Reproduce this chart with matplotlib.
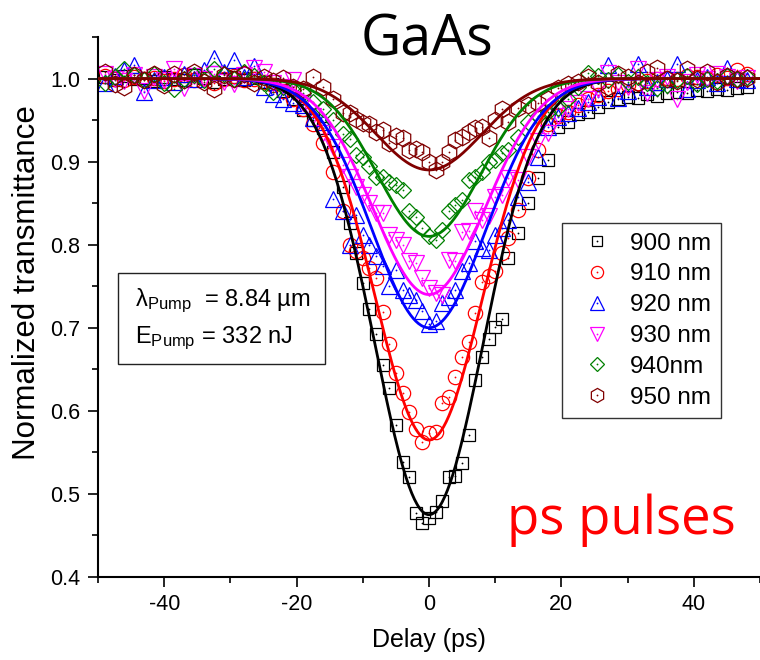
import numpy as np
import matplotlib
matplotlib.use("Agg")
import matplotlib.pyplot as plt
from matplotlib.lines import Line2D
from matplotlib.patches import Rectangle
from matplotlib import font_manager as fm

# ---------------- data ----------------
DELAY = [-49, -47.5, -46, -44.5, -43, -41.5, -40, -38.5, -37, -35.5, -34, -32.5,
         -31, -29.5, -28, -26.5, -25, -23.5, -22, -20.5, -19, -17.5, -16, -14.5, -13,
         -12, -11, -10, -9, -8, -7, -6, -5, -4, -3, -2, -1, 0, 1, 2, 3, 4, 5, 6,
         7, 8, 9, 10, 11, 12,
         13.5, 15, 16.5, 18, 19.5, 21, 22.5, 24, 25.5, 27, 28.5, 30, 31.5, 33,
         34.5, 36, 37.5, 39, 40.5, 42, 43.5, 45, 46.5, 48]

T900 = [1.002, 0.998, 1.003, 0.999, 1.001, 0.997, 1.002, 1.000, 0.998, 1.004, 1.001, 0.996,
        1.000, 1.002, 0.998, 1.001, 0.996, 0.993, 0.985, 0.975, 0.962, 0.950, 0.940, 0.912, 0.870,
        0.826, 0.790, 0.754, 0.722, 0.692, 0.655, 0.627, 0.583, 0.538, 0.520, 0.477, 0.465, 0.471,
        0.478, 0.491, 0.520, 0.521, 0.537, 0.571, 0.637, 0.665, 0.686, 0.701, 0.710, 0.784,
        0.814, 0.850, 0.880, 0.902, 0.942, 0.948, 0.957, 0.960, 0.966, 0.972, 0.975, 0.978,
        0.976, 0.981, 0.979, 0.983, 0.984, 0.982, 0.986, 0.985, 0.987, 0.986, 0.989, 0.990]

T910 = [1.003, 1.000, 0.998, 1.002, 0.999, 1.001, 0.997, 1.000, 1.004, 0.998, 1.001, 0.995,
        1.000, 1.003, 0.998, 1.000, 0.996, 0.992, 0.985, 0.975, 0.963, 0.945, 0.922, 0.888, 0.840,
        0.800, 0.792, 0.784, 0.772, 0.760, 0.719, 0.680, 0.646, 0.622, 0.599, 0.578, 0.563, 0.573,
        0.575, 0.610, 0.617, 0.641, 0.665, 0.683, 0.718, 0.755, 0.762, 0.768, 0.790, 0.808,
        0.842, 0.880, 0.914, 0.945, 0.955, 0.960, 0.968, 0.975, 0.980, 0.985, 0.988, 0.992,
        0.995, 0.997, 0.999, 1.001, 1.000, 1.003, 1.002, 0.999, 1.004, 1.001, 1.010, 1.005]

T920 = [0.995, 1.003, 1.010, 1.016, 0.984, 0.998, 1.002, 0.996, 1.005, 0.999, 1.010, 1.025,
        1.008, 1.022, 1.002, 1.015, 0.990, 0.981, 0.975, 0.970, 0.968, 0.953, 0.948, 0.855, 0.840,
        0.800, 0.836, 0.812, 0.800, 0.786, 0.774, 0.750, 0.770, 0.745, 0.740, 0.734, 0.720, 0.704,
        0.708, 0.730, 0.737, 0.746, 0.768, 0.778, 0.805, 0.796, 0.794, 0.812, 0.820, 0.830,
        0.858, 0.876, 0.905, 0.942, 0.954, 0.958, 0.965, 0.972, 0.978, 1.016, 0.977, 0.985,
        1.018, 0.990, 0.996, 1.000, 1.017, 0.987, 0.998, 1.002, 0.995, 1.013, 1.000, 0.998]

T930 = [1.005, 1.000, 0.997, 1.004, 0.985, 1.002, 0.998, 1.011, 0.989, 1.003, 0.999, 1.005,
        0.996, 0.993, 1.004, 1.013, 1.008, 0.995, 0.990, 0.998, 0.970, 0.955, 0.935, 0.918, 0.896,
        0.881, 0.869, 0.860, 0.850, 0.838, 0.838, 0.812, 0.806, 0.800, 0.780, 0.778, 0.760, 0.748,
        0.742, 0.740, 0.782, 0.780, 0.815, 0.816, 0.840, 0.830, 0.835, 0.857, 0.860, 0.880,
        0.878, 0.906, 0.925, 0.935, 0.955, 0.963, 0.970, 0.975, 0.987, 1.007, 0.995, 0.990,
        1.011, 0.983, 0.998, 1.002, 0.975, 0.996, 1.004, 0.999, 1.006, 1.002, 0.997, 1.001]

T940 = [0.995, 1.002, 1.011, 1.004, 0.998, 1.006, 0.995, 0.987, 1.000, 1.004, 0.998, 1.011,
        1.005, 0.999, 1.008, 1.003, 0.995, 0.984, 0.990, 0.986, 0.983, 0.972, 0.963, 0.950, 0.933,
        0.927, 0.908, 0.906, 0.895, 0.882, 0.881, 0.876, 0.872, 0.866, 0.840, 0.833, 0.820, 0.810,
        0.806, 0.818, 0.840, 0.848, 0.854, 0.878, 0.882, 0.888, 0.899, 0.902, 0.910, 0.914,
        0.930, 0.948, 0.955, 0.960, 0.965, 0.975, 0.990, 1.007, 1.003, 0.998, 1.004, 0.996,
        1.002, 0.995, 0.989, 0.992, 0.998, 1.003, 0.994, 1.000, 0.997, 1.003, 0.999, 1.002]

T950 = [1.008, 0.993, 0.990, 1.004, 0.998, 1.006, 0.992, 1.005, 0.998, 1.008, 0.996, 0.987,
        1.004, 0.999, 1.006, 0.995, 1.002, 0.997, 1.001, 0.990, 0.987, 1.002, 0.990, 0.975, 0.959,
        0.959, 0.951, 0.947, 0.945, 0.936, 0.938, 0.923, 0.931, 0.929, 0.914, 0.915, 0.912, 0.900,
        0.890, 0.900, 0.912, 0.926, 0.930, 0.936, 0.941, 0.942, 0.929, 0.950, 0.963, 0.948,
        0.965, 0.968, 0.971, 0.975, 0.989, 0.993, 0.996, 1.002, 0.995, 0.990, 1.005, 1.002,
        0.995, 1.008, 1.013, 1.000, 0.997, 1.011, 1.000, 1.008, 0.996, 1.003, 0.999, 1.001]

SERIES = [T900, T910, T920, T930, T940, T950]
LABELS = ["900 nm", "910 nm", "920 nm", "930 nm", "940nm", "950 nm"]

# Gaussian fit parameters
FIT_DEPTH = [0.525, 0.435, 0.300, 0.260, 0.190, 0.110]
FIT_SIGMA = [8.2, 8.1, 8.6, 8.4, 7.8, 8.0]
FIT_CENTER = [0.0, 0.0, 0.0, 0.0, 0.0, 0.0]

X_TICKS = [-40, -20, 0, 20, 40]
Y_TICKS = [0.4, 0.5, 0.6, 0.7, 0.8, 0.9, 1.0]

# ---------------- style ----------------
COLORS = ["#000000", "#ff0000", "#0000ff", "#ff00ff", "#008000", "#800000"]
MARKERS = ["s", "o", "^", "v", "D", "h"]
MSIZE = [8.3, 10.3, 11.5, 11.5, 8.3, 12]


def has_font(name):
    try:
        fm.findfont(fm.FontProperties(family=name), fallback_to_default=False)
        return True
    except Exception:
        return False


NARROW = has_font("Liberation Sans Narrow")
TICK_FAMILY = ["Liberation Sans Narrow", "Liberation Sans"] if NARROW else ["Liberation Sans"]
TICK_SIZE = 18 if NARROW else 15.5
XLAB_SIZE = 21 if NARROW else 18

plt.rcParams["font.family"] = ["Liberation Sans", "DejaVu Sans"]
plt.rcParams["mathtext.fontset"] = "custom"
plt.rcParams["mathtext.rm"] = "Liberation Sans"
plt.rcParams["mathtext.it"] = "Liberation Sans:italic"

fig = plt.figure(figsize=(7.6, 6.6), dpi=100)
ax = fig.add_axes([98 / 760, 83 / 660, 662 / 760, 540 / 660])

# data markers
for vals, c, m, ms in zip(SERIES, COLORS, MARKERS, MSIZE):
    ax.plot(DELAY, vals, ls="none", marker=m, ms=ms, mfc="none", mec=c, mew=0.9, zorder=2)
    ax.plot(DELAY, vals, ls="none", marker="o", ms=1.3, mfc=c, mec="none", zorder=2)

# fit curves
xs = np.linspace(-50, 50, 501)
for d, s, c0, c in zip(FIT_DEPTH, FIT_SIGMA, FIT_CENTER, COLORS):
    ax.plot(xs, 1 - d * np.exp(-(xs - c0) ** 2 / (2 * s ** 2)), color=c, lw=2.0, zorder=3)

ax.set_xlim(-50, 49.4)
ax.set_ylim(0.4, 1.05)
ax.set_xticks(X_TICKS)
ax.set_xticks([-50, -30, -10, 10, 30, 50], minor=True)
ax.set_yticks(Y_TICKS)
ax.set_yticks([0.45, 0.55, 0.65, 0.75, 0.85, 0.95, 1.05], minor=True)
ax.set_xticklabels([str(t) for t in X_TICKS], family=TICK_FAMILY, size=TICK_SIZE)
ax.set_yticklabels([f"{t:.1f}" for t in Y_TICKS], family=TICK_FAMILY, size=TICK_SIZE)

for side in ["top", "right"]:
    ax.spines[side].set_visible(False)
for side in ["left", "bottom"]:
    ax.spines[side].set_linewidth(1.5)
ax.tick_params(which="major", direction="out", length=7, width=1.2, pad=5)
ax.tick_params(which="minor", direction="out", length=4.5, width=1.2)
ax.tick_params(axis="y", which="major", pad=6)

ax.set_xlabel("Delay (ps)", family=TICK_FAMILY, size=XLAB_SIZE)
ax.xaxis.set_label_coords(0.5, -0.095)
ax.set_ylabel("Normalized transmittance", family=["Liberation Sans"], size=22.5)
ax.yaxis.set_label_coords(-0.085, 0.546)

# legend
handles = []
for c, m, ms in zip(COLORS, MARKERS, MSIZE):
    h1 = Line2D([], [], ls="none", marker=m, ms=ms * 0.85, mfc="none", mec=c, mew=0.9)
    h2 = Line2D([], [], ls="none", marker="o", ms=1.3, mfc=c, mec="none")
    handles.append((h1, h2))
leg = ax.legend(handles, LABELS, loc="upper left",
                bbox_to_anchor=((562 - 98) / 662, (577 - 223) / 540),
                bbox_transform=ax.transAxes, borderaxespad=0,
                frameon=True, fancybox=False, framealpha=1, edgecolor="#333333",
                prop={"family": "Liberation Sans", "size": 17.5},
                borderpad=0.4, handlelength=2.1, handletextpad=0.3, labelspacing=0.36)
leg.get_frame().set_linewidth(1.0)

# annotation box
fig.patches.append(Rectangle((118 / 760, 1 - 364 / 660), (325 - 118) / 760, (364 - 273) / 660,
                             transform=fig.transFigure, fill=False, ec="#222222", lw=1.0))
fig.text(135 / 760, 1 - 306 / 660, r"$\mathrm{\lambda}_{\mathrm{Pump}}$  = 8.84 µm",
         size=17, family="Liberation Sans", va="baseline", ha="left")
fig.text(135 / 760, 1 - 343 / 660, r"$\mathrm{E}_{\mathrm{Pump}}$ = 332 nJ",
         size=17, family="Liberation Sans", va="baseline", ha="left")

# titles
fig.text(427 / 760, 1 - 55 / 660, "GaAs", size=40, family=["Open Sans", "DejaVu Sans"],
         ha="center", va="baseline")
fig.text(621 / 760, 1 - 534 / 660, "ps pulses", size=38, color="#ff0000",
         family=["Open Sans", "DejaVu Sans"], ha="center", va="baseline")

fig.savefig("out.png", dpi=100)
